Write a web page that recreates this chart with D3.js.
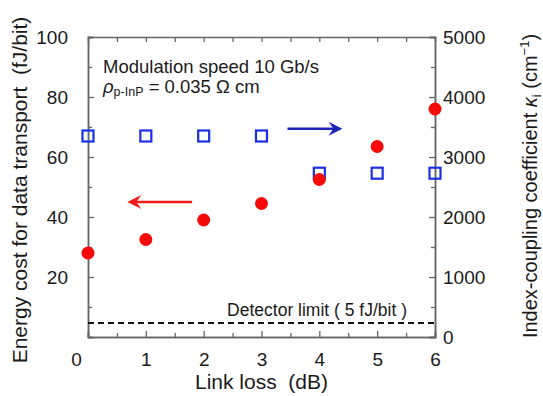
<!DOCTYPE html>
<html>
<head>
<meta charset="utf-8">
<script src="https://cdn.jsdelivr.net/npm/d3@7"></script>
<style>
  body { margin: 0; background: #fff; }
  svg text { font-family: "Liberation Sans", Arial, sans-serif; fill: #1a1a1a; }
</style>
</head>
<body>
<svg id="chart" width="543" height="396"></svg>
<script>
// data
var linkLoss = [0, 1, 2, 3, 4, 5, 6];
var energyCost = [28, 32.5, 39, 44.5, 52.5, 63.5, 76];       // fJ/bit, left axis
var couplingCoef = [3350, 3350, 3350, 3350, 2730, 2730, 2730]; // cm^-1, right axis
var xTicks = [0, 1, 2, 3, 4, 5, 6];
var leftTicks = [20, 40, 60, 80, 100];
var rightTicks = [0, 1000, 2000, 3000, 4000, 5000];
var detectorLimit = 5;

var svg = d3.select('#chart');
var plotLeft = 88, plotRight = 435, plotTop = 37, plotBottom = 337;

var x = d3.scaleLinear().domain([0, 6]).range([plotLeft, plotRight]);
var yL = d3.scaleLinear().domain([0, 100]).range([plotBottom, plotTop]);
var yR = d3.scaleLinear().domain([0, 5000]).range([plotBottom, plotTop]);

var axisColor = '#666';

function styleAxis(g) {
    g.select('.domain').attr('stroke', axisColor).attr('stroke-width', 1.5);
    g.selectAll('.tick line').attr('stroke', axisColor).attr('stroke-width', 1.3);
    g.selectAll('.tick text').style('font-size', '19px').attr('fill', '#1a1a1a');
}

// minor ticks first (no labels)
svg.append('g')
    .attr('transform', 'translate(0,' + plotBottom + ')')
    .call(d3.axisBottom(x).tickValues(d3.range(0.5, 6, 1)).tickSize(-4).tickFormat(''))
    .call(styleAxis);
svg.append('g')
    .attr('transform', 'translate(0,' + plotTop + ')')
    .call(d3.axisTop(x).tickValues(d3.range(0.5, 6, 0.5)).tickSize(-5).tickFormat(''))
    .call(styleAxis);
svg.append('g')
    .attr('transform', 'translate(' + plotLeft + ',0)')
    .call(d3.axisLeft(yL).tickValues(d3.range(10, 100, 20)).tickSize(-4).tickFormat(''))
    .call(styleAxis);
svg.append('g')
    .attr('transform', 'translate(' + plotRight + ',0)')
    .call(d3.axisRight(yR).tickValues(d3.range(500, 5000, 1000)).tickSize(-4).tickFormat(''))
    .call(styleAxis);

// major axes
var xAxis = svg.append('g')
    .attr('transform', 'translate(0,' + plotBottom + ')')
    .call(d3.axisBottom(x).tickValues(xTicks).tickSize(-6).tickPadding(16).tickFormat(d3.format('d')))
    .call(styleAxis);
xAxis.selectAll('.tick text').filter(function(d) { return d === 0; }).attr('dx', -12);

svg.append('g')
    .attr('transform', 'translate(' + plotLeft + ',0)')
    .call(d3.axisLeft(yL).tickValues(leftTicks).tickSize(-6).tickPadding(20))
    .call(styleAxis);
svg.append('g')
    .attr('transform', 'translate(' + plotRight + ',0)')
    .call(d3.axisRight(yR).tickValues(rightTicks).tickSize(-6).tickPadding(8).tickFormat(d3.format('d')))
    .call(styleAxis);

// axis titles
svg.append('text')
    .attr('x', (plotLeft + plotRight) / 2).attr('y', 389)
    .attr('text-anchor', 'middle')
    .style('font-size', '21px')
    .style('white-space', 'pre')
    .text('Link loss  (dB)');

svg.append('text')
    .attr('transform', 'translate(27,190) rotate(-90)')
    .attr('text-anchor', 'middle')
    .style('font-size', '21px')
    .style('white-space', 'pre')
    .text('Energy cost for data transport  (fJ/bit)');

var rt = svg.append('text')
    .attr('transform', 'translate(537,186) rotate(-90)')
    .attr('text-anchor', 'middle')
    .style('font-size', '20px');
rt.append('tspan').text('Index-coupling coefficient ');
rt.append('tspan').style('font-style', 'italic').text('\u03ba');
rt.append('tspan').attr('dy', 4).style('font-size', '13px').text('i');
rt.append('tspan').attr('dy', -4).text(' (cm');
rt.append('tspan').attr('dy', -8).style('font-size', '13px').text('\u22121');
rt.append('tspan').attr('dy', 8).text(')');

// annotations
svg.append('text')
    .attr('x', 103).attr('y', 73)
    .style('font-size', '18.5px')
    .text('Modulation speed 10 Gb/s');
var rho = svg.append('text')
    .attr('x', 103).attr('y', 93)
    .style('font-size', '18.5px');
rho.append('tspan').style('font-style', 'italic').text('\u03c1');
rho.append('tspan').attr('dy', 3).style('font-size', '12.5px').text('p-InP');
rho.append('tspan').attr('dy', -3).text(' = 0.035 \u03a9 cm');

svg.append('text')
    .attr('x', 407).attr('y', 316)
    .attr('text-anchor', 'end')
    .style('font-size', '17.5px')
    .text('Detector limit ( 5 fJ/bit )');

// detector limit dashed line
svg.append('line')
    .attr('x1', x(0)).attr('x2', x(6))
    .attr('y1', yL(detectorLimit) + 1).attr('y2', yL(detectorLimit) + 1)
    .attr('stroke', '#111').attr('stroke-width', 2)
    .attr('stroke-dasharray', '6,4');

// arrows pointing to each series' axis
function arrow(x1, x2, y, color) {
    var dir = x2 > x1 ? 1 : -1;
    svg.append('line')
        .attr('x1', x1).attr('x2', x2 - dir * 6)
        .attr('y1', y).attr('y2', y)
        .attr('stroke', color).attr('stroke-width', 2.5);
    svg.append('path')
        .attr('d', 'M' + x2 + ',' + y +
            ' L' + (x2 - dir * 14) + ',' + (y - 7) +
            ' L' + (x2 - dir * 9) + ',' + y +
            ' L' + (x2 - dir * 14) + ',' + (y + 7) + ' Z')
        .attr('fill', color);
}
arrow(x(3.45), x(4.4), yR(3470), '#1f24b8');
arrow(x(1.8), x(0.68), yL(45), '#f01c1c');

// series
svg.selectAll('.coef')
    .data(linkLoss)
    .enter().append('rect')
    .attr('class', 'coef')
    .attr('x', function(d) { return x(d) - 5.5; })
    .attr('y', function(d, i) { return yR(couplingCoef[i]) - 5.5; })
    .attr('width', 11).attr('height', 11)
    .attr('fill', 'none')
    .attr('stroke', '#1a2fe0').attr('stroke-width', 2.2);

svg.selectAll('.cost')
    .data(linkLoss)
    .enter().append('circle')
    .attr('class', 'cost')
    .attr('cx', function(d) { return x(d); })
    .attr('cy', function(d, i) { return yL(energyCost[i]); })
    .attr('r', 6.5)
    .attr('fill', '#f50a0a');
</script>
</body>
</html>
